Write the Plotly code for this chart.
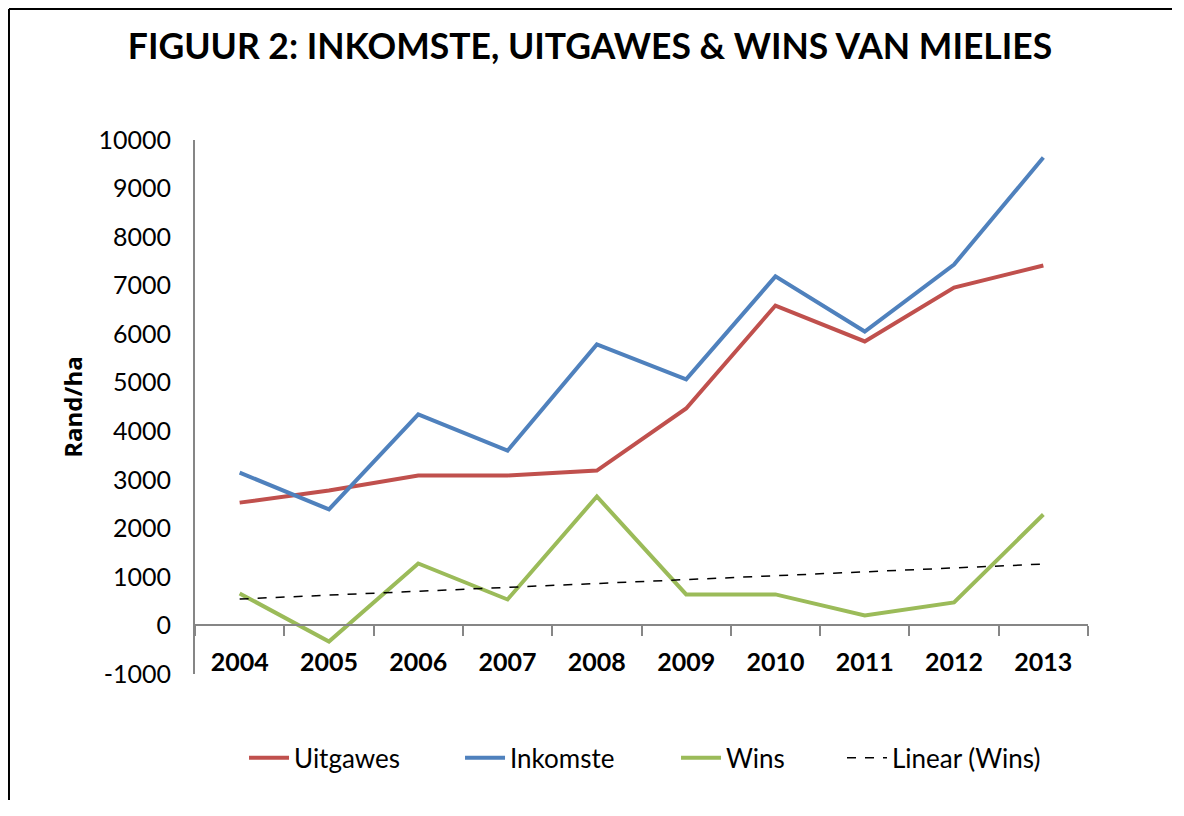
import numpy as np
import plotly.graph_objects as go

# data (Rand/ha)
jare = [2004, 2005, 2006, 2007, 2008, 2009, 2010, 2011, 2012, 2013]
uitgawes = [2530, 2780, 3090, 3090, 3190, 4470, 6590, 5850, 6960, 7415]
inkomste = [3150, 2390, 4350, 3600, 5790, 5070, 7190, 6055, 7435, 9640]
wins = [660, -330, 1277, 535, 2657, 640, 640, 206, 474, 2286]
y_ticks = [-1000, 0, 1000, 2000, 3000, 4000, 5000, 6000, 7000, 8000, 9000, 10000]

FONT = "Lato"

# lineêre trendlyn soos Excel
helling, afsnit = np.polyfit(jare, wins, 1)
trend = [helling * j + afsnit for j in jare]

fig = go.Figure()

fig.add_trace(go.Scatter(x=jare, y=uitgawes, mode="lines", name="Uitgawes",
                         line=dict(color="#C0504D", width=4)))
fig.add_trace(go.Scatter(x=jare, y=inkomste, mode="lines", name="Inkomste",
                         line=dict(color="#4F81BD", width=4)))
fig.add_trace(go.Scatter(x=jare, y=wins, mode="lines", name="Wins",
                         line=dict(color="#9BBB59", width=4)))
fig.add_trace(go.Scatter(x=jare, y=trend, mode="lines", name="Linear (Wins)",
                         line=dict(color="black", width=1.5, dash="dash"),
                         legend="legend2"))

y_min, y_max = -1000, 10000

# die bladsy het 8px kantlyn, hou die figuur binne die venster
fig.update_layout(
    width=1164, height=792,
    paper_bgcolor="white", plot_bgcolor="white",
    margin=dict(l=187, r=84, t=132, b=126, autoexpand=False),
    font=dict(family=FONT, color="black", size=22),
    title=dict(text="<b>FIGUUR 2: INKOMSTE, UITGAWES & WINS VAN MIELIES</b>",
               x=0.5, xanchor="center", y=0.9508, yanchor="middle",
               font=dict(family=FONT, size=35.5, color="black")),
    showlegend=True,
    legend=dict(orientation="h", x=0.0549, xanchor="left", y=-0.157, yanchor="middle",
                font=dict(family=FONT, size=26), itemwidth=40,
                entrywidth=161, entrywidthmode="pixels",
                bgcolor="rgba(0,0,0,0)"),
    legend2=dict(orientation="h", x=0.7245, xanchor="left", y=-0.157, yanchor="middle",
                 font=dict(family=FONT, size=26), itemwidth=40,
                 bgcolor="rgba(0,0,0,0)"),
    xaxis=dict(
        range=[2003.5, 2013.5],
        tickvals=jare, ticktext=["<b>%d</b>" % j for j in jare],
        ticks="", showgrid=False, zeroline=False, automargin=False,
        showline=True, linecolor="#868686", linewidth=2,
        anchor="free", position=(0 - y_min) / (y_max - y_min),
        ticklabelstandoff=15,
        tickfont=dict(family=FONT, size=25, color="black"),
        minor=dict(tick0=2003.5, dtick=1, ticks="outside", ticklen=10,
                   tickcolor="#868686", tickwidth=2, showgrid=False),
    ),
    yaxis=dict(
        range=[y_min, y_max], tickvals=y_ticks, ticktext=[str(v) for v in y_ticks],
        showgrid=False, zeroline=False, ticks="", automargin=False,
        showline=True, linecolor="#868686", linewidth=2,
        ticklabelstandoff=17,
        tickfont=dict(family=FONT, size=25, color="black"),
        title=dict(text="<b>Rand/ha</b>", font=dict(family="Open Sans", size=24), standoff=9),
    ),
)

# raam om die grafiek (bo, links, regs - onderkant val buite die beeld)
raam = dict(color="black", width=2)
x_l, x_r, y_b, y_t = -0.2083, 1.0974, -0.5, 1.2453
fig.add_shape(type="line", xref="paper", yref="paper", x0=x_l, x1=x_r, y0=y_t, y1=y_t, line=raam)
fig.add_shape(type="line", xref="paper", yref="paper", x0=x_l, x1=x_l, y0=y_b, y1=y_t, line=raam)
fig.add_shape(type="line", xref="paper", yref="paper", x0=x_r, x1=x_r, y0=y_b, y1=y_t, line=raam)

fig.write_html("out.html")
